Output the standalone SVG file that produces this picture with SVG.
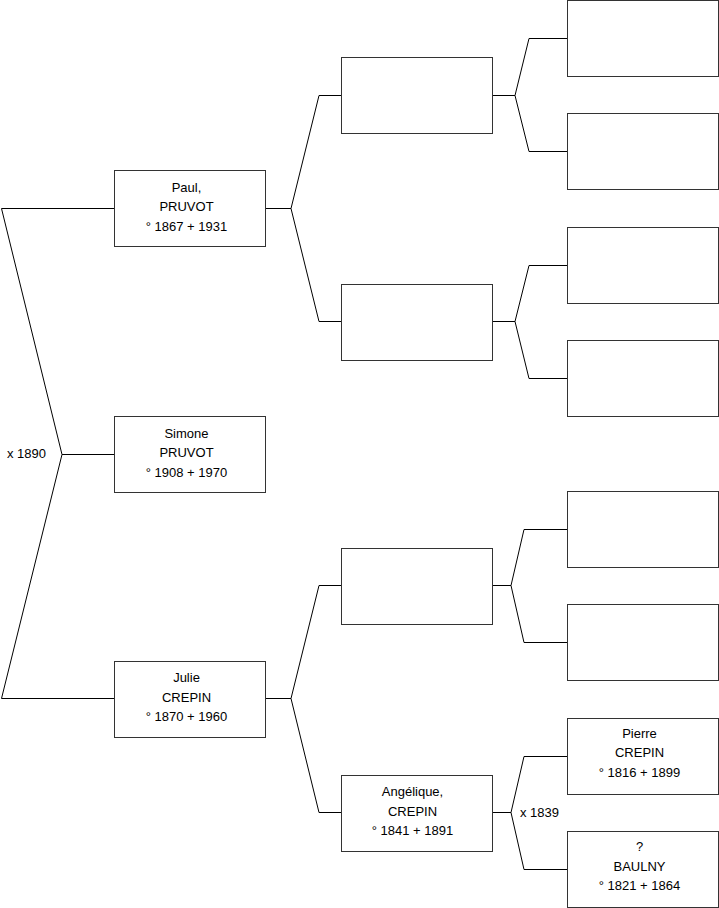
<svg xmlns="http://www.w3.org/2000/svg" width="719" height="908" viewBox="0 0 719 908">
<style>
.box{fill:#fff;stroke:#333;stroke-width:1}
.c{fill:none;stroke:#000;stroke-width:1}
text{font-family:"Liberation Sans",Arial,sans-serif;font-size:13px;fill:#000}
.t{text-anchor:middle}
</style>
<rect width="719" height="908" fill="#fff"/>
<g id="connectors">
<path class="c" d="M114,208.5H1.5L62,454.5H114M62,454.5L1.5,698.5H114"/>
<path class="c" d="M265,208.5H291L319,95.5H341M291,208.5L319,321.5H341"/>
<path class="c" d="M265,698.5H291L319,585.5H341M291,698.5L319,812.5H341"/>
<path class="c" d="M492,95.5H515L529,38.5H567M515,95.5L529,151.5H567"/>
<path class="c" d="M492,321.5H515L529,265.5H567M515,321.5L529,378.5H567"/>
<path class="c" d="M492,585.5H511L524,529.5H567M511,585.5L524,642.5H567"/>
<path class="c" d="M492,812.5H511L524,756.5H567M511,812.5L524,869.5H567"/>
<text x="7" y="458">x 1890</text>
<text x="520" y="817">x 1839</text>
</g>
<g id="paul"><rect class="box" x="114.5" y="170.5" width="151" height="76"/>
<text class="t" x="186.5" y="192">Paul,</text><text class="t" x="186.5" y="211">PRUVOT</text><text class="t" x="186.5" y="231">° 1867 + 1931</text></g>
<g id="simone"><rect class="box" x="114.5" y="416.5" width="151" height="76"/>
<text class="t" x="186.5" y="438">Simone</text><text class="t" x="186.5" y="457">PRUVOT</text><text class="t" x="186.5" y="477">° 1908 + 1970</text></g>
<g id="julie"><rect class="box" x="114.5" y="661.5" width="151" height="76"/>
<text class="t" x="186.5" y="682">Julie</text><text class="t" x="186.5" y="702">CREPIN</text><text class="t" x="186.5" y="721">° 1870 + 1960</text></g>
<g id="p2a"><rect class="box" x="341.5" y="57.5" width="151" height="76"/></g>
<g id="p2b"><rect class="box" x="341.5" y="284.5" width="151" height="76"/></g>
<g id="p2c"><rect class="box" x="341.5" y="548.5" width="151" height="76"/></g>
<g id="angelique"><rect class="box" x="341.5" y="775.5" width="151" height="76"/>
<text class="t" x="412.5" y="796">Angélique,</text><text class="t" x="412.5" y="816">CREPIN</text><text class="t" x="412.5" y="835">° 1841 + 1891</text></g>
<g id="p3a"><rect class="box" x="567.5" y="0.5" width="151" height="76"/></g>
<g id="p3b"><rect class="box" x="567.5" y="113.5" width="151" height="76"/></g>
<g id="p3c"><rect class="box" x="567.5" y="227.5" width="151" height="76"/></g>
<g id="p3d"><rect class="box" x="567.5" y="340.5" width="151" height="76"/></g>
<g id="p3e"><rect class="box" x="567.5" y="491.5" width="151" height="76"/></g>
<g id="p3f"><rect class="box" x="567.5" y="604.5" width="151" height="76"/></g>
<g id="pierre"><rect class="box" x="567.5" y="718.5" width="151" height="76"/>
<text class="t" x="639.5" y="738">Pierre</text><text class="t" x="639.5" y="757">CREPIN</text><text class="t" x="639.5" y="777">° 1816 + 1899</text></g>
<g id="baulny"><rect class="box" x="567.5" y="831.5" width="151" height="76"/>
<text class="t" x="639.5" y="851">?</text><text class="t" x="639.5" y="871">BAULNY</text><text class="t" x="639.5" y="890">° 1821 + 1864</text></g>
</svg>
